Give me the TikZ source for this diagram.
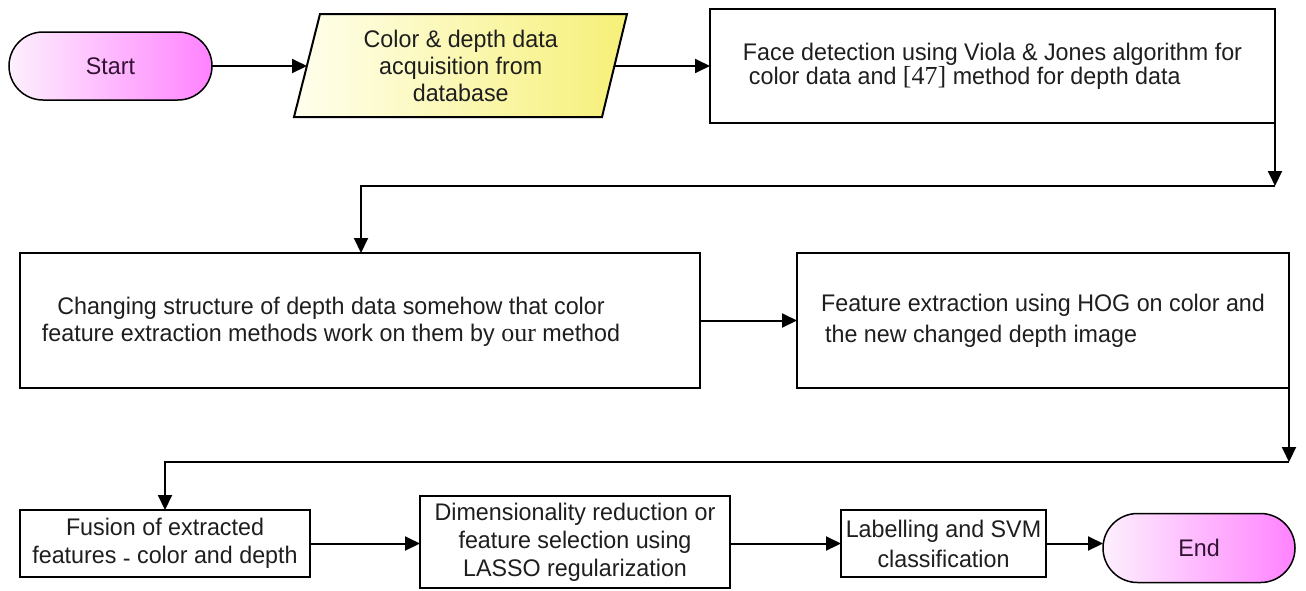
\documentclass[tikz,border=0pt]{standalone}
\usepackage{fontspec}
\setmainfont{Liberation Sans}[FakeStretch=0.97]
\newfontfamily\trm{Liberation Serif}
\usetikzlibrary{shapes.misc,arrows.meta,shadings}
\definecolor{pinkL}{RGB}{253,240,253}
\definecolor{pinkR}{RGB}{255,130,255}
\definecolor{yelL}{RGB}{255,255,238}
\definecolor{yelR}{RGB}{246,240,120}
\definecolor{ink}{RGB}{30,30,30}
\definecolor{termink}{RGB}{50,20,50}
\begin{document}
\begin{tikzpicture}[x=0.5pt,y=-0.5pt,
  every node/.style={font=\fontsize{12}{13.5}\selectfont, text=ink},
  box/.style={draw, line width=1pt, rectangle, inner sep=0pt, outer sep=0pt, align=center},
  term/.style={draw, line width=0.75pt, rounded rectangle, inner sep=0pt, outer sep=0pt,
    left color=pinkL, right color=pinkR, text=termink},
  arr/.style={line width=1pt, -{Triangle[length=7.5pt,width=7pt]}},
]
\useasboundingbox (0,0) rectangle (1306,590);

% Start
\node[term, minimum width=101.5pt, minimum height=34pt] (start) at (110.5,66) {Start};

% Data acquisition (parallelogram)
\shade[left color=yelL, right color=yelR] (320,14) -- (627,14) -- (602,117) -- (294,117) -- cycle;
\draw[line width=1pt] (320,14) -- (627,14) -- (602,117) -- (294,117) -- cycle;
\node[inner sep=0pt, outer sep=0pt, minimum width=153.75pt, minimum height=51.5pt, align=center]
  (para) at (460.75,66) {Color \& depth data\\acquisition from\\database};

% Face detection
\node[box, align=left, minimum width=282.5pt, minimum height=57pt,
  font=\fontsize{12}{12}\selectfont] (face) at (992.5,66)
  {Face detection using Viola \& Jones algorithm for\\\hspace*{3pt}color data and {\trm\fontsize{13}{12}\selectfont[47]} method for depth data};

% Changing structure
\node[box, minimum width=340pt, minimum height=67.5pt] (chg) at (360,320.5) {};
\node[inner sep=0pt, align=center] (chgtext) at (331,321.5)
  {Changing structure of depth data somehow that color\\feature extraction methods work on them by {\trm\fontsize{13}{13.5}\selectfont our} method};

% Feature extraction
\node[box, align=left, minimum width=246pt, minimum height=67.5pt,
  font=\fontsize{12}{15.5}\selectfont] (feat) at (1043,320.5)
  {Feature extraction using HOG on color and\\\hspace*{2pt}the new changed depth image};

% Bottom row
\node[box, minimum width=145pt, minimum height=33.5pt, font=\fontsize{12}{14}\selectfont] (fus) at (165,543.5)
  {Fusion of extracted\\features {\raisebox{-0.25ex}{-}} color and depth};
\node[box, minimum width=155pt, minimum height=46pt, font=\fontsize{12}{14}\selectfont] (dim) at (575,542)
  {Dimensionality reduction or\\feature selection using\\LASSO regularization};
\node[box, minimum width=102.5pt, minimum height=33.5pt, font=\fontsize{12}{15}\selectfont] (lab) at (943.5,543.5)
  {Labelling and SVM\\classification};
\node[term, minimum width=96pt, minimum height=34.5pt] (fin) at (1199,548) {End};

% Connectors
\draw[arr] (start.east) -- (para.west);
\draw[arr] (para.east) -- (face.west);

\coordinate (c1) at (1275,186);
\coordinate (c2) at (361,186);
\draw[arr] (face.south east) -- (c1);
\draw[arr] (c1) -- (c2) -- (c2 |- chg.north);

\draw[arr] (chg.east) -- (feat.west);

\coordinate (c3) at (1289,462);
\coordinate (c4) at (165,462);
\draw[arr] (feat.south east) -- (c3);
\draw[arr] (c3) -- (c4) -- (fus.north);

\draw[arr] (fus.east) -- (fus.east -| dim.west);
\draw[arr] (lab.west -| dim.east) -- (lab.west);
\draw[arr] (lab.east) -- (lab.east -| fin.west);
\end{tikzpicture}
\end{document}
